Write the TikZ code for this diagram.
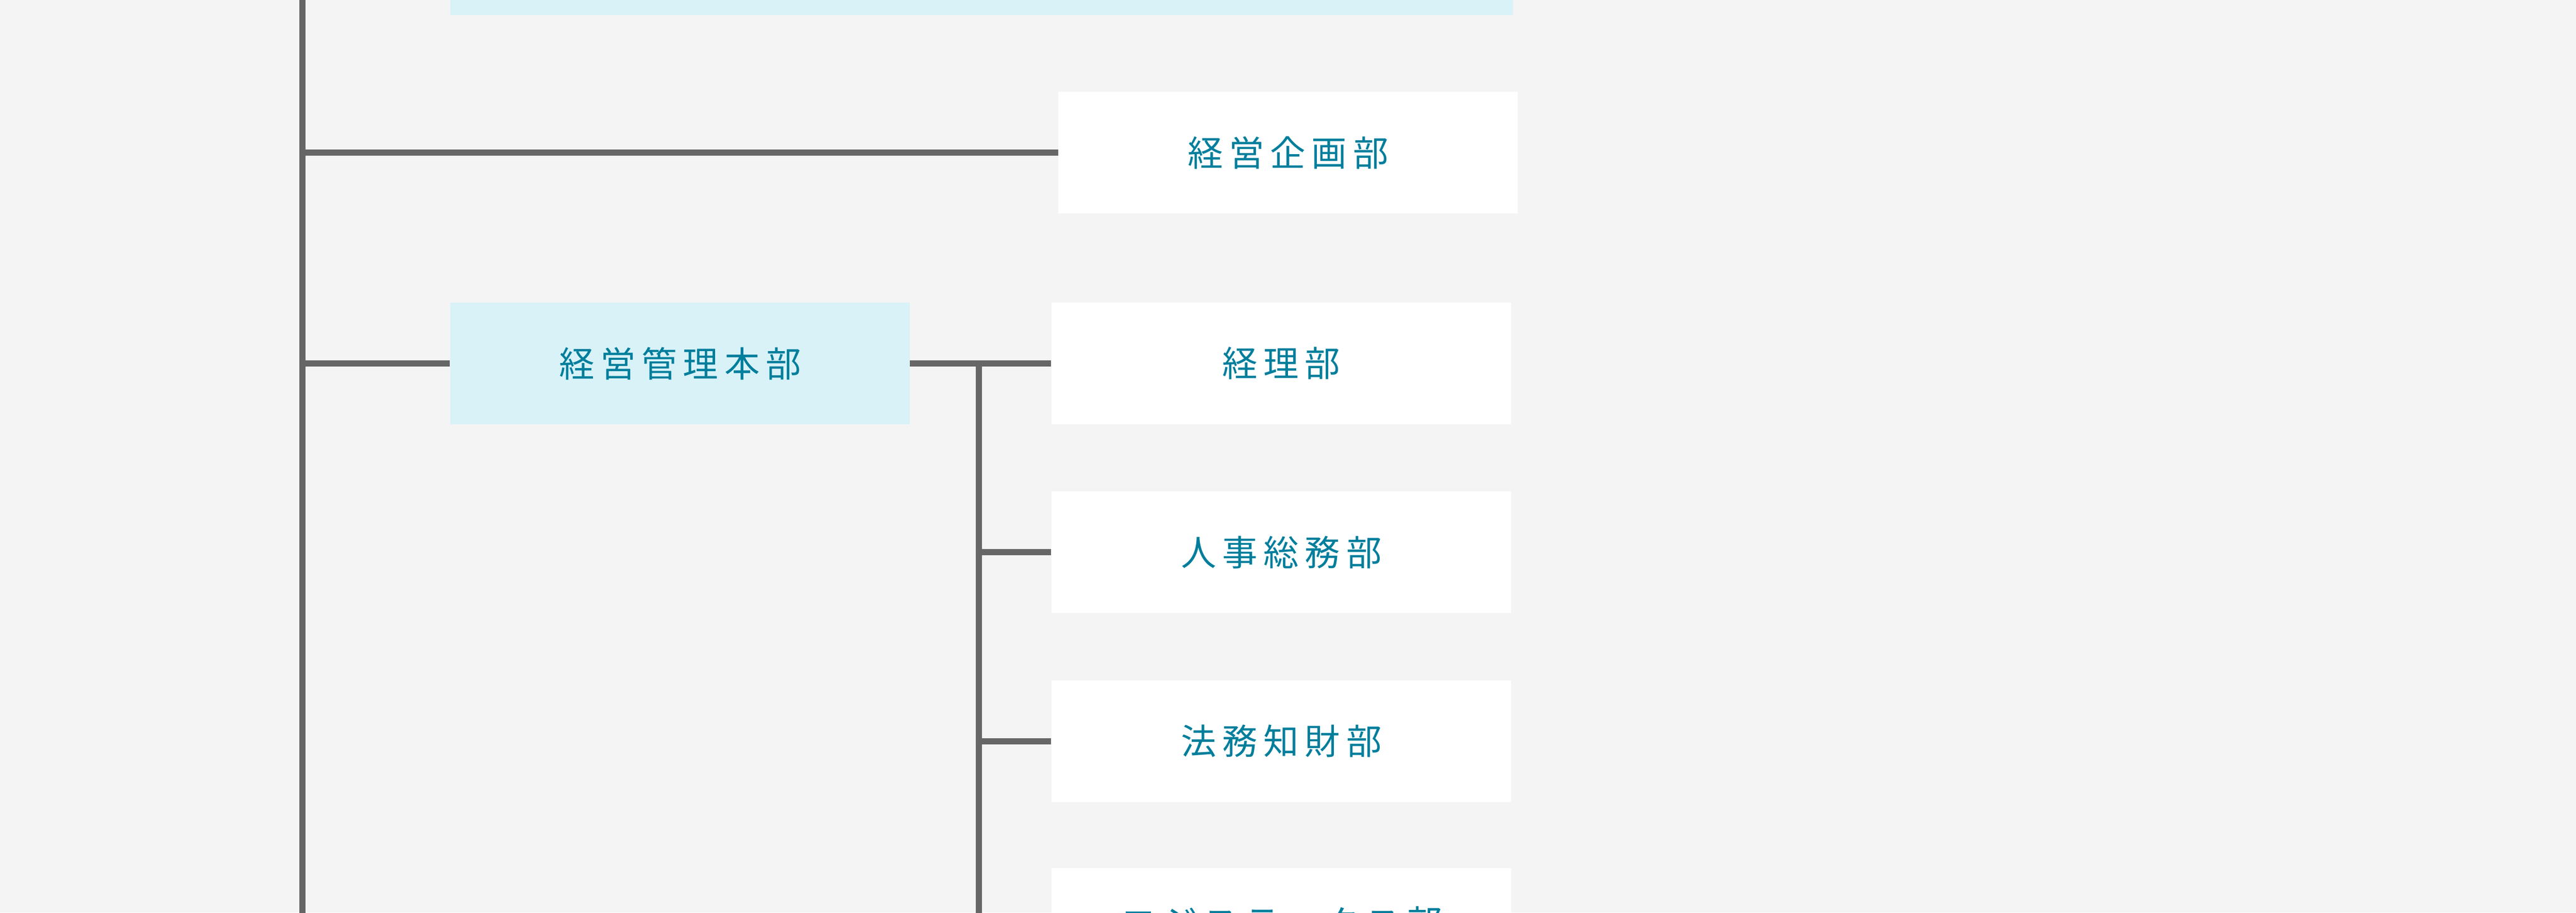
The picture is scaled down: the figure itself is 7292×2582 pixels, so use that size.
\documentclass[tikz,border=0pt]{standalone}
\usepackage{fontspec}
\newfontfamily\jpfont[LetterSpace=17]{Noto Sans CJK JP}
\usetikzlibrary{positioning}
\definecolor{bgGray}{HTML}{F4F4F4}
\definecolor{lineGray}{HTML}{666666}
\definecolor{headBlue}{HTML}{D8F2F8}
\definecolor{textBlue}{HTML}{007E9C}
\tikzset{
  dept/.style={rectangle, fill=white, minimum width=1302pt, minimum height=344pt, inner sep=0pt, text=textBlue, font=\jpfont\fontsize{100}{110}\selectfont},
  head/.style={dept, fill=headBlue},
  link/.style={draw=lineGray, line width=18pt}
}
\begin{document}
\begin{tikzpicture}[x=1pt,y=-1pt]
  \fill[bgGray] (0,0) rectangle (7292,2582);
  \useasboundingbox (0,0) rectangle (7292,2582);
  \begin{scope}
    \clip (0,0) rectangle (7292,2582);
    \fill[headBlue] (1274,-100) rectangle (4283,42);
    \node (kikaku) [dept] at (3646,432) {経営企画部};
    \node (kanri) [head] at (1925,1028) {経営管理本部};
    \node (keiri) [dept] at (3627,1028) {経理部};
    \node (jinji) [dept] at (3627,1562) {人事総務部};
    \node (houmu) [dept] at (3627,2097) {法務知財部};
    \node (logi) [dept, anchor=north] at (3627,2455) {};
    \node [text=textBlue, font=\jpfont\fontsize{100}{110}\selectfont] at (3627,2610) {ロジスティクス部};
    \coordinate (trunkTop) at (856,-50);
    \coordinate (trunkBot) at (856,2650);
    \coordinate (subTop) at (2771,1028);
    \coordinate (subBot) at (2771,2650);
    \draw[link] (trunkTop) -- (trunkBot);
    \draw[link] (trunkTop |- kikaku) -- (kikaku.west);
    \draw[link] (trunkTop |- kanri) -- (kanri.west);
    \draw[link] (kanri.east) -- (keiri.west);
    \draw[link] ([yshift=-9pt]subTop) -- (subBot);
    \draw[link] (subTop |- jinji) -- (jinji.west);
    \draw[link] (subTop |- houmu) -- (houmu.west);
  \end{scope}
\end{tikzpicture}
\end{document}
